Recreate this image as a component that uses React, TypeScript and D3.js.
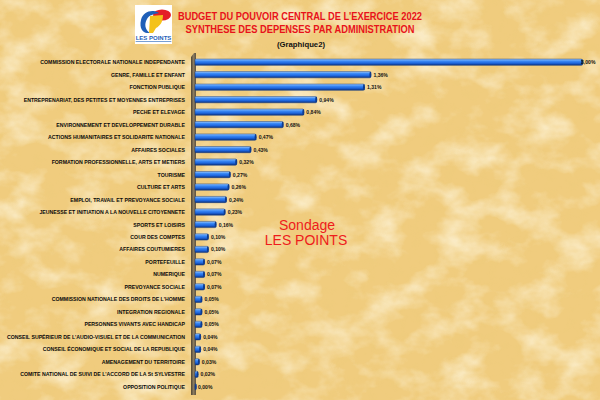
import React from "react";
import * as d3 from "d3";

const categories = [
  "COMMISSION ELECTORALE NATIONALE INDEPENDANTE",
  "GENRE, FAMILLE ET ENFANT",
  "FONCTION PUBLIQUE",
  "ENTREPRENARIAT, DES PETITES ET MOYENNES ENTREPRISES",
  "PECHE ET ELEVAGE",
  "ENVIRONNEMENT ET DEVELOPPEMENT DURABLE",
  "ACTIONS HUMANITAIRES ET SOLIDARITE NATIONALE",
  "AFFAIRES SOCIALES",
  "FORMATION PROFESSIONNELLE, ARTS ET METIERS",
  "TOURISME",
  "CULTURE ET ARTS",
  "EMPLOI, TRAVAIL ET PREVOYANCE SOCIALE",
  "JEUNESSE ET INITIATION A LA NOUVELLE CITOYENNETE",
  "SPORTS ET LOISIRS",
  "COUR DES COMPTES",
  "AFFAIRES COUTUMIERES",
  "PORTEFEUILLE",
  "NUMERIQUE",
  "PREVOYANCE SOCIALE",
  "COMMISSION NATIONALE DES DROITS DE L'HOMME",
  "INTEGRATION REGIONALE",
  "PERSONNES VIVANTS AVEC HANDICAP",
  "CONSEIL SUPÉRIEUR DE L'AUDIO-VISUEL ET DE LA COMMUNICATION",
  "CONSEIL ÉCONOMIQUE ET SOCIAL DE LA REPUBLIQUE",
  "AMENAGEMENT DU TERRITOIRE",
  "COMITE NATIONAL DE SUIVI DE L'ACCORD DE LA St SYLVESTRE",
  "OPPOSITION POLITIQUE",
];

const values = [
  3.0, 1.36, 1.31, 0.94, 0.84, 0.68, 0.47, 0.43, 0.32, 0.27, 0.26, 0.24, 0.23,
  0.16, 0.1, 0.1, 0.07, 0.07, 0.07, 0.05, 0.05, 0.05, 0.04, 0.04, 0.03, 0.02, 0.0,
];

const titleLines = [
  "BUDGET DU POUVOIR CENTRAL DE L'EXERCICE 2022",
  "SYNTHESE DES DEPENSES PAR ADMINISTRATION",
];
const subtitle = "(Graphique2)";
const watermark = ["Sondage", "LES POINTS"];
const logoText = "LES POINTS";

const W = 600;
const H = 400;

export default function App() {
  const x = d3.scaleLinear().domain([0, 3]).range([195, 582]);
  const y = d3
    .scaleBand<string>()
    .domain(categories)
    .range([56, 393])
    .paddingInner(0.5)
    .paddingOuter(0.25);
  const bh = y.bandwidth();
  const fmt = (v: number) => d3.format(".2f")(v).replace(".", ",") + "%";

  return (
    <svg
      width={W}
      height={H}
      style={{ position: "absolute", left: 0, top: 0, display: "block" }}
      fontFamily="'Liberation Sans', Arial, sans-serif"
    >
      <defs>
        <filter id="paper" x="0" y="0" width="100%" height="100%">
          <feTurbulence type="fractalNoise" baseFrequency="0.025 0.035" numOctaves="4" seed="7" result="n" />
          <feColorMatrix
            in="n"
            type="matrix"
            values="0 0 0 0 1  0 0 0 0 0.94  0 0 0 0 0.76  2.4 0 0 0 -1.05"
          />
        </filter>
        <filter id="speck" x="0" y="0" width="100%" height="100%">
          <feTurbulence type="fractalNoise" baseFrequency="0.09" numOctaves="3" seed="2" result="n" />
          <feColorMatrix
            in="n"
            type="matrix"
            values="0 0 0 0 0.85  0 0 0 0 0.6  0 0 0 0 0.2  0 -2.5 0 0 1.35"
          />
        </filter>
        <linearGradient id="barG" x1="0" y1="0" x2="0" y2="1">
          <stop offset="0" stopColor="#a6d0ff" />
          <stop offset="0.3" stopColor="#3d8cf7" />
          <stop offset="0.65" stopColor="#1d66de" />
          <stop offset="1" stopColor="#0b2f7a" />
        </linearGradient>
        <linearGradient id="wallG" x1="0" y1="0" x2="1" y2="0">
          <stop offset="0" stopColor="#4e4433" />
          <stop offset="0.5" stopColor="#8b7b5e" />
          <stop offset="1" stopColor="#5d523f" />
        </linearGradient>
      </defs>

      <rect x={0} y={0} width={W} height={H} fill="#f0cc7e" />
      <rect x={0} y={0} width={W} height={H} filter="url(#speck)" opacity={0.4} />
      <rect x={0} y={0} width={W} height={H} filter="url(#paper)" opacity={0.7} />

      {/* Logo */}
      <g>
        <rect x={135} y={5} width={37} height={39} fill="#ffffff" />
        <ellipse cx={162} cy={15} rx={9} ry={5.5} fill="#e41e26" />
        <path
          d="M159,13 C153,9 143,11 141,20 C139,28 143,33 147,33 L150,33 C145,30 144,24 147,19 C149,15 154,14 159,13 Z"
          fill="#1f5fb8"
        />
        <path d="M150,16 L163,15 C163,22 160,26 156,28 L153,33 L149,33 Z" fill="#f4c21a" />
        <text
          x={153.5}
          y={40}
          textAnchor="middle"
          fontSize={6}
          fontWeight="bold"
          fill="#1f5fb8"
          textDecoration="underline"
        >
          {logoText}
        </text>
      </g>

      {/* Titles */}
      <text x={300} y={20} textAnchor="middle" fontSize={10.5} fontWeight="bold" fill="#e8121a" textLength={244} lengthAdjust="spacingAndGlyphs">
        {titleLines[0]}
      </text>
      <text x={300} y={33} textAnchor="middle" fontSize={10.5} fontWeight="bold" fill="#e8121a" textLength={229} lengthAdjust="spacingAndGlyphs">
        {titleLines[1]}
      </text>
      <text x={301} y={47} textAnchor="middle" fontSize={7} fontWeight="bold" fill="#111" textLength={48} lengthAdjust="spacingAndGlyphs">
        {subtitle}
      </text>

      {/* Axis wall */}
      <path d={`M191,57 L194,53 L196,53 L196,395 L191,395 Z`} fill="url(#wallG)" />

      {/* Bars */}
      {categories.map((c, i) => {
        const v = values[i];
        const y0 = y(c) as number;
        const x1 = x(v);
        const w = Math.max(x1 - x(0), 0.8);
        const lx = Math.min(x1 + 3, W - 19);
        return (
          <g key={c}>
            <rect x={x(0)} y={y0} width={w} height={bh} fill="url(#barG)" stroke="#123a80" strokeWidth={0.5} rx={0.8} />
            <ellipse cx={x(0) + w} cy={y0 + bh / 2} rx={1} ry={bh / 2} fill="#0d3b8f" />
            <text
              transform={`translate(${lx},${y0 + bh / 2 + 2}) scale(0.85,1)`}
              fontSize={6}
              fontWeight="bold"
              fill="#111"
            >
              {fmt(v)}
            </text>
            <text
              transform={`translate(185,${y0 + bh / 2 + 2}) scale(0.87,1)`}
              textAnchor="end"
              fontSize={6}
              fontWeight="bold"
              fill="#0a0a0a"
            >
              {c}
            </text>
          </g>
        );
      })}

      {/* Watermark */}
      <text x={307} y={230} textAnchor="middle" fontSize={14} fill="#ee1c1c">
        {watermark[0]}
      </text>
      <text x={306} y={245} textAnchor="middle" fontSize={14} fill="#ee1c1c">
        {watermark[1]}
      </text>
    </svg>
  );
}
